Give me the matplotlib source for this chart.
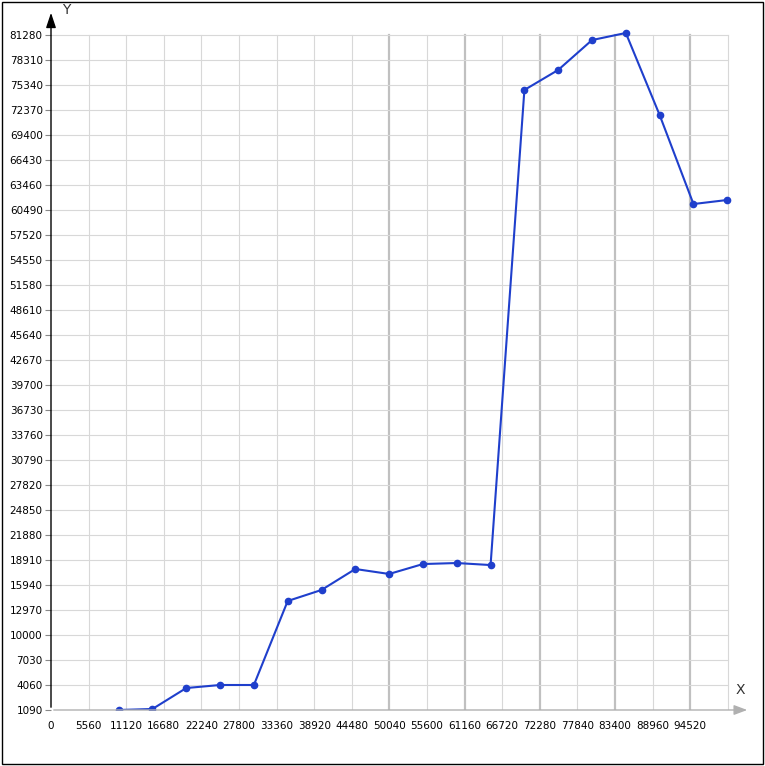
import matplotlib.pyplot as plt
from matplotlib.patches import Rectangle

xs = [10000, 15000, 20000, 25000, 30000, 35000, 40000, 45000, 50000, 55000,
      60000, 65000, 70000, 75000, 80000, 85000, 90000, 95000, 100000]
ys = [1090, 1210, 3700, 4060, 4060, 14040, 15350, 17840, 17250, 18430,
      18550, 18310, 74750, 77130, 80680, 81520, 71770, 61200, 61680]
xticks = [i * 5560 for i in range(18)]
yticks = [1090 + i * 2970 for i in range(28)]
dark_x = [50040, 61160, 72280, 83400, 94520]

fig = plt.figure(figsize=(7.65, 7.66), dpi=100)
fig.patches.append(Rectangle((0.002, 0.002), 0.996, 0.996, transform=fig.transFigure,
                             fill=False, edgecolor='black', linewidth=1))
ax = fig.add_axes([51 / 765, 1 - 710 / 766, (750 - 51) / 765, 700 / 766])
xmax = 103360
ymax = 84250
ax.set_xlim(0, xmax)
ax.set_ylim(1090, ymax)

gx_end = 100080
for x in xticks[1:] + [gx_end]:
    c = '#c0c0c0' if x in dark_x else '#d8d8d8'
    lw = 1.6 if x in dark_x else 0.8
    ax.plot([x, x], [1090, 81280], color=c, lw=lw, zorder=0)
for y in yticks[1:]:
    ax.plot([0, gx_end], [y, y], color='#d8d8d8', lw=0.8, zorder=0)

for s in ax.spines.values():
    s.set_visible(False)
ax.annotate('', xy=(xmax, 1090), xytext=(0, 1090),
            arrowprops=dict(arrowstyle='-|>,head_length=0.8,head_width=0.3', color='#b0b0b0', lw=1))
ax.annotate('', xy=(0, ymax), xytext=(0, 1090),
            arrowprops=dict(arrowstyle='-|>,head_length=0.9,head_width=0.3', color='black', lw=1))
ax.text(xmax - 800, 2600, 'X', fontsize=10, ha='right', va='bottom', color='#333')
ax.text(1600, ymax, 'Y', fontsize=10, ha='left', va='center', color='#333')

ax.plot(xs, ys, color='#1f3fcc', lw=1.5, marker='o', markersize=4.5)

ax.set_xticks(xticks)
ax.set_xticklabels([str(t) for t in xticks], fontsize=7.5)
ax.set_yticks(yticks)
ax.set_yticklabels([str(t) for t in yticks], fontsize=7.5)
ax.tick_params(axis='x', length=0, pad=8)
ax.tick_params(axis='y', length=4, color='#888', pad=2)

fig.savefig('out.png')
